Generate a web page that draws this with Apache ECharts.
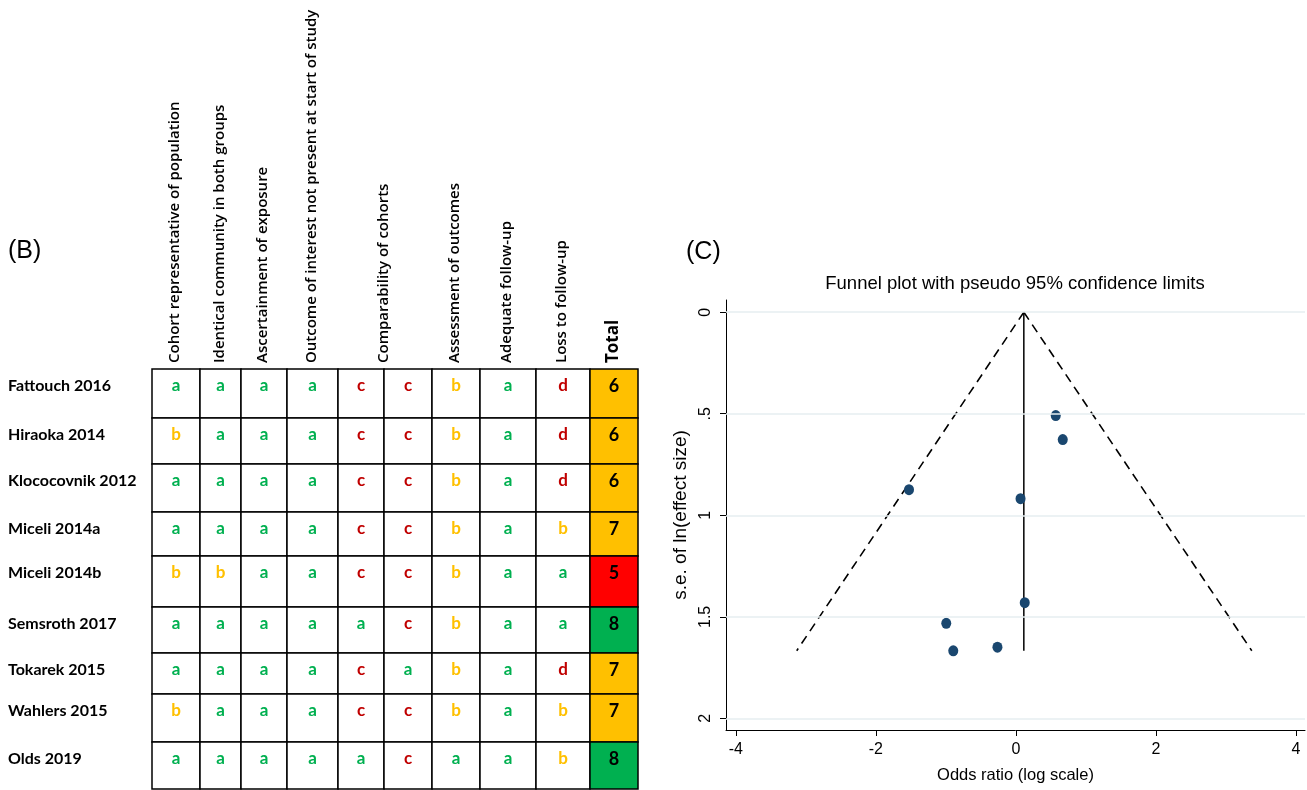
<!DOCTYPE html>
<html>
<head>
<meta charset="utf-8">
<script src="https://cdn.jsdelivr.net/npm/echarts@6/dist/echarts.min.js"></script>
<style>
html,body{margin:0;padding:0;background:#fff;}
#main{width:1307px;height:790px;}
</style>
</head>
<body>
<div id="main"></div>
<script>
// ---------- DATA ----------
const studies = ['Fattouch 2016','Hiraoka 2014','Klococovnik 2012','Miceli 2014a','Miceli 2014b','Semsroth 2017','Tokarek 2015','Wahlers 2015','Olds 2019'];
const criteria = ['Cohort representative of population','Identical community in both groups','Ascertainment of exposure','Outcome of interest not present at start of study','Comparability of cohorts','Assessment of outcomes','Adequate follow-up','Loss to follow-up','Total'];
const criteriaColumns = [[0],[1],[2],[3],[4,5],[6],[7],[8],[9]];
const ratings = [
  ['a','a','a','a','c','c','b','a','d'],
  ['b','a','a','a','c','c','b','a','d'],
  ['a','a','a','a','c','c','b','a','d'],
  ['a','a','a','a','c','c','b','a','b'],
  ['b','b','a','a','c','c','b','a','a'],
  ['a','a','a','a','a','c','b','a','a'],
  ['a','a','a','a','c','a','b','a','d'],
  ['b','a','a','a','c','c','b','a','b'],
  ['a','a','a','a','a','c','a','a','b']
];
const totals = [6,6,6,7,5,8,7,7,8];

// funnel plot
const logOR = [0.57, 0.67, -1.526, 0.067, 0.127, -0.994, -0.894, -0.263];
const seLogOR = [0.509, 0.627, 0.874, 0.918, 1.43, 1.532, 1.667, 1.649];
const pooled = 0.114;
const maxSE = 1.667;
const lowerLimitAtMaxSE = -3.13;
const upperLimitAtMaxSE = 3.37;
const xTicks = [-4,-2,0,2,4];
const yTicks = [0,0.5,1,1.5,2];

// ---------- LAYOUT (not data) ----------
const colWidths = [48,41,46,51,46,48,48,56,54,48];
const rowHeights = [49,46,48,44,51,46,41,48,47];
const colEdges = [0]; colWidths.forEach(w => colEdges.push(colEdges[colEdges.length-1]+w));
const rowEdges = [0]; rowHeights.forEach(h => rowEdges.push(rowEdges[rowEdges.length-1]+h));
const tableW = colEdges[colEdges.length-1];
const tableH = rowEdges[rowEdges.length-1];

const letterColor = {a:'#00b050', b:'#ffc000', c:'#c00000', d:'#c00000'};
function totalColor(t){ return t >= 8 ? '#00b050' : (t >= 6 ? '#ffc000' : '#ff0000'); }

const cellData = [];
ratings.forEach((row, r) => {
  row.forEach((v, c) => cellData.push([c, r, v]));
  cellData.push([row.length, r, String(totals[r])]);
});

const chart = echarts.init(document.getElementById('main'), null, {renderer:'canvas'});
const AR = 'Liberation Sans, Arial, sans-serif';

const option = {
  animation: false,
  backgroundColor: '#fff',
  grid: [
    {left: 152, top: 369, width: tableW, height: tableH, containLabel: false},
    {left: 726, top: 300, right: 2, bottom: 60, containLabel: false}
  ],
  xAxis: [
    {gridIndex: 0, type: 'value', min: 0, max: tableW, show: false},
    {gridIndex: 1, type: 'value', min: -4.14, max: 4.13,
     axisLine: {show: true, onZero: false, lineStyle: {color: '#000', width: 1}},
     axisTick: {show: true, customValues: xTicks, length: 6, lineStyle: {color: '#000'}},
     axisLabel: {customValues: xTicks, color: '#000', fontSize: 16, fontFamily: AR, margin: 12},
     splitLine: {show: false},
     name: 'Odds ratio (log scale)', nameLocation: 'middle', nameGap: 37,
     nameTextStyle: {color: '#000', fontSize: 16.5, fontFamily: AR}}
  ],
  yAxis: [
    {gridIndex: 0, type: 'value', min: 0, max: tableH, inverse: true, show: false},
    {gridIndex: 1, type: 'value', min: -0.06, max: 2.057, inverse: true,
     axisLine: {show: true, onZero: false, lineStyle: {color: '#000', width: 1}},
     axisTick: {show: true, customValues: yTicks, length: 6, lineStyle: {color: '#000'}},
     axisLabel: {customValues: yTicks, rotate: 90, color: '#000', fontSize: 16, fontFamily: AR, margin: 12,
       formatter: v => String(v).replace(/^0\./, '.')},
     splitLine: {show: false},
     name: 's.e. of ln(effect size)', nameLocation: 'middle', nameGap: 36,
     nameTextStyle: {color: '#000', fontSize: 19, fontFamily: AR}}
  ],
  graphic: [
    {type: 'text', left: 8, top: 239, style: {text: '(B)', fontSize: 25, fontFamily: AR, fill: '#000'}},
    {type: 'text', left: 686, top: 240, style: {text: '(C)', fontSize: 25, fontFamily: AR, fill: '#000'}},
    {type: 'text', x: 1015, y: 284, style: {text: 'Funnel plot with pseudo 95% confidence limits', fontSize: 18.5, fontFamily: AR, fill: '#000', align: 'center', verticalAlign: 'middle'}}
  ],
  series: [
    // table cells
    {
      type: 'custom', xAxisIndex: 0, yAxisIndex: 0, clip: false, silent: true,
      data: cellData,
      renderItem: function (params, api) {
        const c = api.value(0), r = api.value(1);
        const txt = cellData[params.dataIndex][2];
        const p0 = api.coord([colEdges[c], rowEdges[r]]);
        const p1 = api.coord([colEdges[c+1], rowEdges[r+1]]);
        const isTotal = c === colWidths.length - 1;
        return {
          type: 'group',
          children: [
            {type: 'rect', shape: {x: p0[0], y: p0[1], width: p1[0]-p0[0], height: p1[1]-p0[1]},
             style: {fill: isTotal ? totalColor(totals[r]) : '#fff', stroke: '#000', lineWidth: 1.5}},
            {type: 'text', x: (p0[0]+p1[0])/2, y: p0[1] + 17,
             style: {text: txt, fill: isTotal ? '#000' : letterColor[txt], fontSize: isTotal ? 18 : 17,
               fontWeight: 'bold', fontFamily: 'Lato, Open Sans, sans-serif', align: 'center', verticalAlign: 'middle'}}
          ]
        };
      },
      z: 2
    },
    // study labels
    {
      type: 'custom', xAxisIndex: 0, yAxisIndex: 0, clip: false, silent: true,
      data: studies.map((s, i) => [0, i]),
      renderItem: function (params, api) {
        const r = api.value(1);
        const p = api.coord([0, rowEdges[r]]);
        return {type: 'text', x: 8, y: p[1] + 17,
          style: {text: studies[r], fill: '#000', fontSize: 16, fontWeight: 'bold', fontFamily: 'Lato, Open Sans, sans-serif', align: 'left', verticalAlign: 'middle'}};
      }
    },
    // headers
    {
      type: 'custom', xAxisIndex: 0, yAxisIndex: 0, clip: false, silent: true,
      data: criteria.map((s, i) => [i, 0]),
      renderItem: function (params, api) {
        const i = params.dataIndex;
        const cols = criteriaColumns[i];
        const s = cols[0], e = cols[cols.length-1];
        const p = api.coord([(colEdges[s] + colEdges[e+1]) / 2, 0]);
        const isTotal = criteria[i] === 'Total';
        return {type: 'text', x: p[0] - 1, y: p[1] - 6, rotation: Math.PI/2,
          style: {text: criteria[i], fill: '#000', fontSize: isTotal ? 17 : 15, fontWeight: isTotal ? 'bold' : 600,
            fontFamily: 'Open Sans, Lato, sans-serif', align: 'left', verticalAlign: 'middle'}};
      }
    },
    // gridlines for funnel
    {
      type: 'line', xAxisIndex: 1, yAxisIndex: 1, data: [], silent: true, z: 1,
      markLine: {silent: true, symbol: 'none', label: {show: false}, animation: false,
        lineStyle: {color: '#e6eef0', type: 'solid', width: 1.5},
        data: yTicks.map(v => ({yAxis: v}))}
    },
    // funnel limits
    {
      type: 'line', xAxisIndex: 1, yAxisIndex: 1, symbol: 'none', silent: true, z: 3,
      data: [[pooled, 0], [lowerLimitAtMaxSE, maxSE]],
      lineStyle: {color: '#000', width: 1.6, type: [9, 6]}
    },
    {
      type: 'line', xAxisIndex: 1, yAxisIndex: 1, symbol: 'none', silent: true, z: 3,
      data: [[pooled, 0], [upperLimitAtMaxSE, maxSE]],
      lineStyle: {color: '#000', width: 1.6, type: [9, 6]}
    },
    {
      type: 'line', xAxisIndex: 1, yAxisIndex: 1, symbol: 'none', silent: true, z: 3,
      data: [[pooled, 0], [pooled, maxSE]],
      lineStyle: {color: '#000', width: 1.5, type: 'solid'}
    },
    // studies
    {
      type: 'scatter', xAxisIndex: 1, yAxisIndex: 1, z: 4,
      data: logOR.map((v, i) => [v, seLogOR[i]]),
      symbol: 'circle', symbolSize: [10, 11],
      itemStyle: {color: '#1a476f', opacity: 1}
    }
  ]
};
chart.setOption(option);
</script>
</body>
</html>
